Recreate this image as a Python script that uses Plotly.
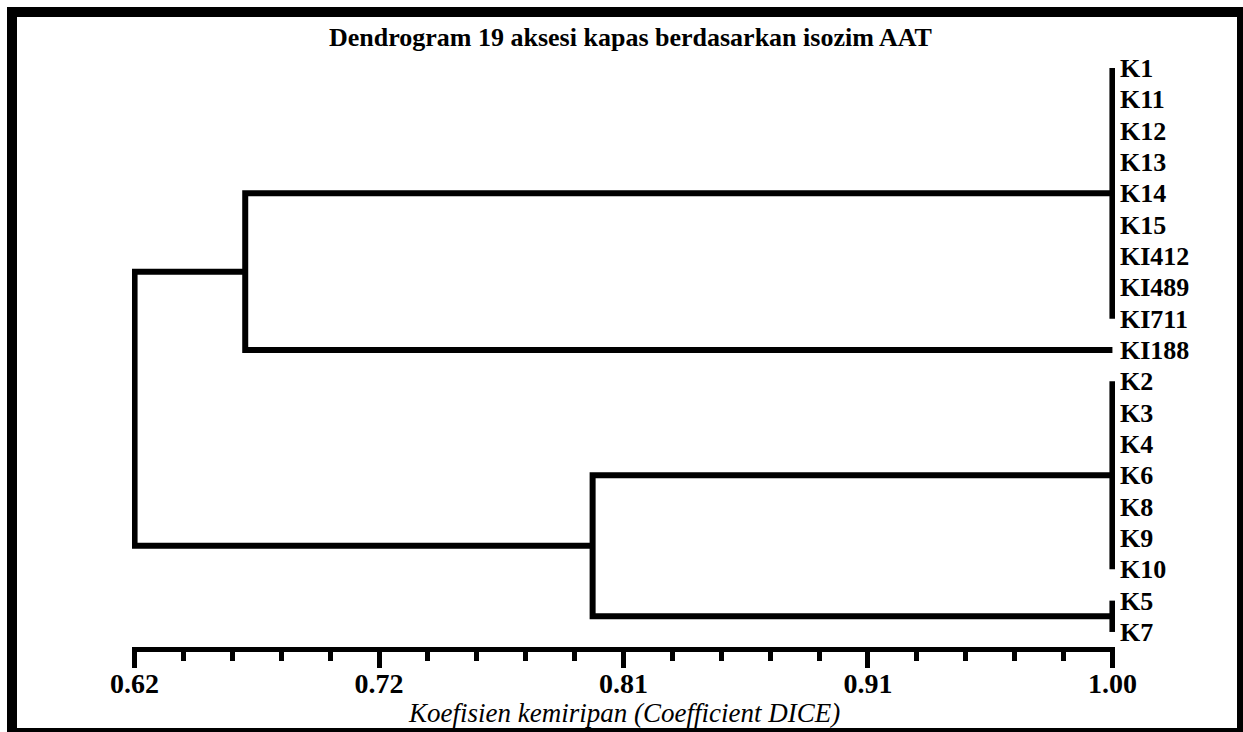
import plotly.graph_objects as go

# ---------------- data ----------------
leaf_labels = ["K1", "K11", "K12", "K13", "K14", "K15", "KI412", "KI489", "KI711",
               "KI188", "K2", "K3", "K4", "K6", "K8", "K9", "K10", "K5", "K7"]

# groups of accessions that are identical (similarity 1.00)
group_names = ["A", "B", "C", "D"]
group_members = [
    ["K1", "K11", "K12", "K13", "K14", "K15", "KI412", "KI489", "KI711"],
    ["KI188"],
    ["K2", "K3", "K4", "K6", "K8", "K9", "K10"],
    ["K5", "K7"],
]
leaf_similarity = 1.00

# merges (left child, right child, similarity, new node name)
merge_left = ["A", "C", "AB"]
merge_right = ["B", "D", "CD"]
merge_sim = [0.663, 0.798, 0.62]
merge_name = ["AB", "CD", "ROOT"]

x_tickvals = [0.62, 0.715, 0.81, 0.905, 1.00]
x_ticktext = ["0.62", "0.72", "0.81", "0.91", "1.00"]
x_minor_step = 0.019

title_text = "Dendrogram 19 aksesi kapas berdasarkan isozim AAT"
xaxis_title = "Koefisien kemiripan (Coefficient DICE)"

# ---------------- layout geometry ----------------
W, H = 1243, 732
L, R, T, B = 132, 128, 40, 85


def px_x(p):
    return (p - L) / (W - L - R)


def px_y(p):
    return (H - B - p) / (H - T - B)


# ---------------- build dendrogram paths ----------------
idx = {name: i for i, name in enumerate(leaf_labels)}
node_pos = {}
node_h = {}
xs, ys = [], []
for gname, mem in zip(group_names, group_members):
    ids = [idx[m] for m in mem]
    node_pos[gname] = (min(ids) + max(ids)) / 2
    node_h[gname] = leaf_similarity
    if len(ids) > 1:
        xs += [leaf_similarity, leaf_similarity, None]
        ys += [min(ids), max(ids), None]

for a, bnode, h, name in zip(merge_left, merge_right, merge_sim, merge_name):
    ya, yb = node_pos[a], node_pos[bnode]
    xs += [node_h[a], h, h, node_h[bnode], None]
    ys += [ya, ya, yb, yb, None]
    node_pos[name] = (ya + yb) / 2
    node_h[name] = h

fig = go.Figure()
fig.add_trace(go.Scatter(
    x=xs, y=ys, mode="lines",
    line=dict(color="black", width=6),
    hoverinfo="skip", showlegend=False,
))

serif = "Liberation Serif"

fig.update_layout(
    width=W, height=H,
    margin=dict(l=L, r=R, t=T, b=B, pad=0),
    paper_bgcolor="white", plot_bgcolor="white",
    showlegend=False,
    xaxis=dict(
        range=[0.619, 1.001],
        showgrid=False, zeroline=False,
        showline=True, linecolor="black", linewidth=5,
        tickvals=x_tickvals, ticktext=x_ticktext,
        ticks="outside", ticklen=16, tickwidth=5, tickcolor="black",
        ticklabelstandoff=-9,
        tickfont=dict(family=serif, size=28, color="black", weight="bold"),
        minor=dict(dtick=x_minor_step, tick0=x_tickvals[0], ticks="outside",
                   ticklen=9, tickwidth=5, tickcolor="black", showgrid=False),
        fixedrange=True,
    ),
    yaxis=dict(
        range=[18.48, -0.894],
        side="right",
        showgrid=False, zeroline=False, showline=False,
        tickvals=list(range(len(leaf_labels))), ticktext=leaf_labels,
        ticks="", ticklabelstandoff=4,
        tickfont=dict(family=serif, size=26, color="black", weight="bold"),
        fixedrange=True,
    ),
    annotations=[
        dict(text=title_text, xref="paper", yref="paper",
             x=px_x(630), y=px_y(37), xanchor="center", yanchor="middle",
             showarrow=False,
             font=dict(family=serif, size=26, color="black", weight="bold")),
        dict(text=xaxis_title, xref="paper", yref="paper",
             x=px_x(624), y=px_y(713), xanchor="center", yanchor="middle",
             showarrow=False,
             font=dict(family=serif, size=27, color="black", style="italic")),
    ],
    shapes=[
        dict(type="rect", xref="paper", yref="paper", layer="above",
             x0=px_x(7), x1=px_x(17), y0=px_y(7), y1=px_y(740),
             fillcolor="black", line=dict(width=0)),
        dict(type="rect", xref="paper", yref="paper", layer="above",
             x0=px_x(7), x1=px_x(1250), y0=px_y(7), y1=px_y(17),
             fillcolor="black", line=dict(width=0)),
        dict(type="rect", xref="paper", yref="paper", layer="above",
             x0=px_x(1237), x1=px_x(1250), y0=px_y(7), y1=px_y(740),
             fillcolor="black", line=dict(width=0)),
        dict(type="rect", xref="paper", yref="paper", layer="above",
             x0=px_x(7), x1=px_x(1250), y0=px_y(728), y1=px_y(740),
             fillcolor="black", line=dict(width=0)),
    ],
)

fig.write_html("out.html",
               config={"displayModeBar": False},
               post_script="document.body.style.margin='0';document.body.style.overflow='hidden';")
